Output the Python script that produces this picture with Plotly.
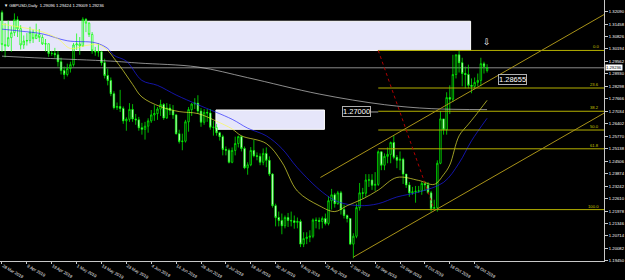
import plotly.graph_objects as go

# ---------------- data ----------------
tick_idx = [0, 8, 16, 24, 32, 40, 48, 56, 64, 72, 80, 88, 96, 104, 112, 120, 128, 136, 144, 152]
tick_text = ["28 Mar 2019", "9 Apr 2019", "19 Apr 2019", "1 May 2019", "13 May 2019", "23 May 2019",
             "4 Jun 2019", "14 Jun 2019", "26 Jun 2019", "8 Jul 2019", "18 Jul 2019", "30 Jul 2019",
             "9 Aug 2019", "21 Aug 2019", "2 Sep 2019", "12 Sep 2019", "24 Sep 2019", "4 Oct 2019",
             "16 Oct 2019", "28 Oct 2019"]

opens = [1.3205, 1.3042, 1.3035, 1.3077, 1.3102, 1.3168, 1.3122, 1.3040, 1.3060, 1.3062,
         1.3104, 1.3072, 1.3092, 1.3078, 1.3045, 1.3046, 1.2997, 1.2997, 1.2990, 1.2955,
         1.2910, 1.2890, 1.2920, 1.2940, 1.3040, 1.3045, 1.3035, 1.3170, 1.3150, 1.3093,
         1.3010, 1.3005, 1.3005, 1.2950, 1.2885, 1.2860, 1.2793, 1.2722, 1.2728, 1.2718,
         1.2655, 1.2663, 1.2713, 1.2665, 1.2660, 1.2620, 1.2612, 1.2628, 1.2655, 1.2685,
         1.2692, 1.2715, 1.2738, 1.2670, 1.2720, 1.2708, 1.2685, 1.2590, 1.2550, 1.2552,
         1.2650, 1.2712, 1.2740, 1.2745, 1.2705, 1.2648, 1.2698, 1.2695, 1.2623, 1.2622,
         1.2595, 1.2575, 1.2510, 1.2506, 1.2445, 1.2505, 1.2540, 1.2575, 1.2515, 1.2417,
         1.2432, 1.2505, 1.2478, 1.2475, 1.2445, 1.2490, 1.2455, 1.2385, 1.2225, 1.2165,
         1.2150, 1.2123, 1.2165, 1.2150, 1.2148, 1.2140, 1.2145, 1.2030, 1.2058, 1.2065,
         1.2070, 1.2152, 1.2150, 1.2145, 1.2160, 1.2135, 1.2250, 1.2280, 1.2235, 1.2290,
         1.2205, 1.2175, 1.2160, 1.2030, 1.2070, 1.2215, 1.2290, 1.2288, 1.2355, 1.2355,
         1.2328, 1.2333, 1.2498, 1.2430, 1.2475, 1.2485, 1.2545, 1.2470, 1.2455, 1.2460,
         1.2385, 1.2330, 1.2290, 1.2295, 1.2298, 1.2300, 1.2338, 1.2330, 1.2290, 1.2210,
         1.2215, 1.2440, 1.2665, 1.2610, 1.2773, 1.2765, 1.2890, 1.2990, 1.2950, 1.2895,
         1.2890, 1.2835, 1.2830, 1.2850, 1.2860, 1.2945, 1.2910]
highs = [1.3215, 1.3150, 1.3165, 1.3135, 1.3200, 1.3185, 1.3140, 1.3088, 1.3100, 1.3132,
         1.3118, 1.3148, 1.3120, 1.3092, 1.3070, 1.3047, 1.3010, 1.3025, 1.3010, 1.2975,
         1.2930, 1.2945, 1.2955, 1.3050, 1.3098, 1.3080, 1.3180, 1.3176, 1.3155, 1.3105,
         1.3030, 1.3048, 1.3010, 1.2970, 1.2920, 1.2875, 1.2805, 1.2748, 1.2812, 1.2728,
         1.2673, 1.2745, 1.2740, 1.2690, 1.2675, 1.2645, 1.2650, 1.2668, 1.2710, 1.2735,
         1.2725, 1.2762, 1.2745, 1.2745, 1.2740, 1.2735, 1.2690, 1.2610, 1.2590, 1.2660,
         1.2725, 1.2745, 1.2770, 1.2785, 1.2720, 1.2715, 1.2715, 1.2715, 1.2655, 1.2640,
         1.2600, 1.2585, 1.2525, 1.2515, 1.2520, 1.2575, 1.2580, 1.2580, 1.2525, 1.2445,
         1.2522, 1.2558, 1.2495, 1.2490, 1.2515, 1.2520, 1.2475, 1.2390, 1.2235, 1.2195,
         1.2185, 1.2175, 1.2188, 1.2195, 1.2175, 1.2165, 1.2155, 1.2090, 1.2090, 1.2100,
         1.2160, 1.2165, 1.2165, 1.2170, 1.2185, 1.2272, 1.2310, 1.2290, 1.2300, 1.2300,
         1.2230, 1.2180, 1.2160, 1.2085, 1.2235, 1.2340, 1.2315, 1.2385, 1.2385, 1.2385,
         1.2395, 1.2505, 1.2500, 1.2490, 1.2520, 1.2550, 1.2582, 1.2482, 1.2500, 1.2468,
         1.2385, 1.2345, 1.2320, 1.2325, 1.2325, 1.2345, 1.2350, 1.2345, 1.2300, 1.2255,
         1.2455, 1.2705, 1.2665, 1.2800, 1.2835, 1.2990, 1.2988, 1.3013, 1.2975, 1.2930,
         1.2940, 1.2870, 1.2875, 1.2895, 1.2975, 1.2955, 1.2942]
lows = [1.3004, 1.2977, 1.3030, 1.3005, 1.3085, 1.3080, 1.3017, 1.3020, 1.3037, 1.3048,
        1.3050, 1.3070, 1.3055, 1.3040, 1.3006, 1.2980, 1.2985, 1.2975, 1.2930, 1.2890,
        1.2866, 1.2880, 1.2900, 1.2930, 1.3015, 1.2990, 1.3030, 1.3105, 1.3080, 1.2995,
        1.2985, 1.2980, 1.2935, 1.2870, 1.2835, 1.2780, 1.2713, 1.2710, 1.2700, 1.2640,
        1.2605, 1.2650, 1.2650, 1.2635, 1.2605, 1.2585, 1.2560, 1.2595, 1.2645, 1.2655,
        1.2660, 1.2680, 1.2660, 1.2665, 1.2685, 1.2665, 1.2585, 1.2540, 1.2506, 1.2545,
        1.2600, 1.2680, 1.2715, 1.2690, 1.2625, 1.2635, 1.2650, 1.2610, 1.2580, 1.2580,
        1.2555, 1.2480, 1.2480, 1.2439, 1.2440, 1.2480, 1.2520, 1.2500, 1.2410, 1.2382,
        1.2425, 1.2470, 1.2455, 1.2430, 1.2430, 1.2420, 1.2375, 1.2215, 1.2120, 1.2120,
        1.2080, 1.2110, 1.2117, 1.2120, 1.2108, 1.2110, 1.2015, 1.2015, 1.2030, 1.2040,
        1.2060, 1.2110, 1.2105, 1.2110, 1.2125, 1.2125, 1.2205, 1.2215, 1.2230, 1.2180,
        1.2160, 1.2140, 1.2025, 1.1958, 1.2060, 1.2200, 1.2260, 1.2270, 1.2320, 1.2305,
        1.2300, 1.2325, 1.2405, 1.2405, 1.2440, 1.2440, 1.2460, 1.2415, 1.2405, 1.2335,
        1.2315, 1.2270, 1.2280, 1.2240, 1.2290, 1.2280, 1.2300, 1.2285, 1.2195, 1.2205,
        1.2195, 1.2435, 1.2585, 1.2585, 1.2690, 1.2750, 1.2870, 1.2900, 1.2830, 1.2820,
        1.2820, 1.2795, 1.2815, 1.2830, 1.2830, 1.2895, 1.2900]
closes = [1.3042, 1.3035, 1.3077, 1.3102, 1.3168, 1.3122, 1.3040, 1.3060, 1.3062, 1.3104,
          1.3072, 1.3092, 1.3078, 1.3045, 1.3046, 1.2997, 1.2997, 1.2990, 1.2955, 1.2910,
          1.2890, 1.2920, 1.2940, 1.3040, 1.3045, 1.3035, 1.3170, 1.3150, 1.3093, 1.3010,
          1.3005, 1.3005, 1.2950, 1.2885, 1.2860, 1.2793, 1.2722, 1.2728, 1.2718, 1.2655,
          1.2663, 1.2713, 1.2665, 1.2660, 1.2620, 1.2612, 1.2628, 1.2655, 1.2685, 1.2692,
          1.2715, 1.2738, 1.2670, 1.2720, 1.2708, 1.2685, 1.2590, 1.2550, 1.2552, 1.2650,
          1.2712, 1.2740, 1.2745, 1.2705, 1.2648, 1.2698, 1.2695, 1.2623, 1.2622, 1.2595,
          1.2575, 1.2510, 1.2506, 1.2445, 1.2505, 1.2540, 1.2575, 1.2515, 1.2417, 1.2432,
          1.2505, 1.2478, 1.2475, 1.2445, 1.2490, 1.2455, 1.2385, 1.2225, 1.2165, 1.2150,
          1.2123, 1.2165, 1.2150, 1.2148, 1.2140, 1.2145, 1.2030, 1.2058, 1.2065, 1.2070,
          1.2152, 1.2150, 1.2145, 1.2160, 1.2135, 1.2250, 1.2280, 1.2235, 1.2290, 1.2205,
          1.2175, 1.2160, 1.2030, 1.2070, 1.2215, 1.2290, 1.2288, 1.2355, 1.2355, 1.2328,
          1.2333, 1.2498, 1.2430, 1.2475, 1.2485, 1.2545, 1.2470, 1.2455, 1.2460, 1.2385,
          1.2330, 1.2290, 1.2295, 1.2298, 1.2300, 1.2338, 1.2330, 1.2290, 1.2210, 1.2215,
          1.2440, 1.2665, 1.2610, 1.2773, 1.2765, 1.2890, 1.2990, 1.2950, 1.2895, 1.2890,
          1.2835, 1.2830, 1.2850, 1.2860, 1.2945, 1.2930, 1.2924]

# moving averages (bar index, price)
ma_fast_idx = [0, 6, 13, 18, 22, 27, 31, 34, 36, 39, 42, 45, 51, 57, 63, 69, 74, 77, 85, 90,
               95, 102, 107, 111, 116, 121, 127, 134, 139, 142, 144, 147, 150, 152, 156]
ma_fast_val = [1.3145, 1.3130, 1.3106, 1.3071, 1.3022, 1.3037, 1.3042, 1.3012, 1.2973, 1.2909,
               1.2840, 1.2776, 1.2727, 1.2702, 1.2692, 1.2653, 1.2614, 1.2579, 1.2540, 1.2446,
               1.2299, 1.2225, 1.2195, 1.2225, 1.2259, 1.2304, 1.2368, 1.2353, 1.2333, 1.2382,
               1.2431, 1.2579, 1.2638, 1.2677, 1.2759]
ma_mid_idx = [0, 6, 13, 21, 30, 34, 36, 40, 45, 50, 56, 63, 74, 79, 85, 90, 95, 103, 108, 115,
              121, 127, 134, 142, 147, 151, 156]
ma_mid_val = [1.3120, 1.3110, 1.3096, 1.3061, 1.3051, 1.3022, 1.2987, 1.2958, 1.2860, 1.2835,
              1.2786, 1.2737, 1.2663, 1.2618, 1.2579, 1.2515, 1.2417, 1.2294, 1.2245, 1.2225,
              1.2235, 1.2269, 1.2294, 1.2343, 1.2441, 1.2554, 1.2668]
ma_slow_idx = [0, 13, 35, 44, 63, 79, 102, 123, 138, 156]
ma_slow_val = [1.2983, 1.2973, 1.2958, 1.2948, 1.2928, 1.2874, 1.2791, 1.2737, 1.2717, 1.2712]

y_tick_vals = [1.19450, 1.20082, 1.20714, 1.21346, 1.21978, 1.22610, 1.23242, 1.23874, 1.24506,
               1.25138, 1.25770, 1.26402, 1.27034, 1.27666, 1.28298, 1.28930, 1.29562, 1.30194,
               1.30826, 1.31458, 1.32090]
y_tick_text = ["1.19450", "1.20082", "1.20714", "1.21346", "1.21978", "1.22610", "1.23242",
               "1.23874", "1.24506", "1.25138", "1.25770", "1.26402", "1.27034", "1.27666",
               "1.28298", "1.28930", "1.29562", "1.30194", "1.30826", "1.31458", "1.32090"]

# drawn objects (bar index / price anchors)
fib_start, fib_end = 121, 139
fib_high, fib_low = 1.3012, 1.2205
fib_ratios = [0.0, 0.236, 0.382, 0.5, 0.618, 1.0]
fib_names = ["0.0", "23.6", "38.2", "50.0", "61.8", "100.0"]
box1 = (-2, 150.7, 1.3012, 1.3160)
box2 = (68.8, 103.7, 1.2612, 1.2710)
chan_upper = ((102.4, 1.2368), (193.6, 1.3194))
chan_lower = ((113.0, 1.1964), (193.6, 1.2694))
label_a = (1.27000, "1.27000")
label_b = (1.28655, "1.28655")
bid = 1.2924
title_txt = "GBPUSD,Daily  1.29096 1.29424 1.29009 1.29236"

X_RANGE = [-0.64, 193.6]
Y_RANGE = [1.19444, 1.32678]

# ---------------- figure ----------------
idx = list(range(len(closes)))
fig = go.Figure()

fig.add_trace(go.Candlestick(
    x=idx, open=opens, high=highs, low=lows, close=closes,
    increasing=dict(line=dict(color="rgba(0,255,0,0.72)", width=1), fillcolor="rgba(0,0,0,0)"),
    decreasing=dict(line=dict(color="rgba(0,255,0,0.72)", width=1), fillcolor="white"),
    whiskerwidth=0, showlegend=False, hoverinfo="skip"))

fig.add_trace(go.Scatter(x=ma_slow_idx, y=ma_slow_val, mode="lines",
                         line=dict(color="rgba(200,200,200,0.7)", width=1, shape="spline"),
                         showlegend=False, hoverinfo="skip"))
fig.add_trace(go.Scatter(x=ma_mid_idx, y=ma_mid_val, mode="lines",
                         line=dict(color="rgba(30,30,255,0.65)", width=1, shape="spline"),
                         showlegend=False, hoverinfo="skip"))
fig.add_trace(go.Scatter(x=ma_fast_idx, y=ma_fast_val, mode="lines",
                         line=dict(color="rgba(255,255,60,0.62)", width=1, shape="spline"),
                         showlegend=False, hoverinfo="skip"))

shapes = []
for b in (box1, box2):
    shapes.append(dict(type="rect", xref="x", yref="y", x0=b[0], x1=b[1], y0=b[2], y1=b[3],
                       fillcolor="#E6E6FA", line=dict(color="white", width=1), layer="below"))
# bid line
shapes.append(dict(type="line", xref="paper", yref="y", x0=0, x1=1, y0=bid, y1=bid,
                   line=dict(color="#8A8A8A", width=1), layer="below"))
# fib levels
fib_prices = [fib_high - (fib_high - fib_low) * r for r in fib_ratios]
for p in fib_prices:
    shapes.append(dict(type="line", xref="x", yref="y", x0=fib_start, x1=X_RANGE[1], y0=p, y1=p,
                       line=dict(color="#B4B000", width=1)))
shapes.append(dict(type="line", xref="x", yref="y", x0=fib_start, x1=fib_end, y0=fib_high, y1=fib_low,
                   line=dict(color="#B00000", width=1, dash="dot")))
for (a, b) in (chan_upper, chan_lower):
    shapes.append(dict(type="line", xref="x", yref="y", x0=a[0], y0=a[1], x1=b[0], y1=b[1],
                       line=dict(color="#A89218", width=1)))
# short pointer line of the 1.27000 label
shapes.append(dict(type="line", xref="x", yref="y", x0=118.6, x1=121, y0=label_a[0], y1=label_a[0],
                   line=dict(color="#A0A0A0", width=1)))
fig.update_layout(shapes=shapes)

ann = []
FONT = "Liberation Sans"
for p, n in zip(fib_prices, fib_names):
    ann.append(dict(xref="paper", yref="y", x=0.995, y=p, text=n, showarrow=False,
                    xanchor="right", yanchor="bottom", yshift=-1,
                    font=dict(family=FONT, size=4.2, color="#C8C400")))
ann.append(dict(xref="x", yref="y", x=118.6, y=label_a[0], text=label_a[1], showarrow=False,
                xanchor="right", yanchor="middle", bgcolor="black", bordercolor="#B0B0B0",
                borderwidth=1, borderpad=0, font=dict(family=FONT, size=7.5, color="white")))
ann.append(dict(xref="x", yref="y", x=159.5, y=label_b[0], text=label_b[1], showarrow=False,
                xanchor="left", yanchor="middle", bgcolor="black", bordercolor="#B0B0B0",
                borderwidth=1, borderpad=0, font=dict(family=FONT, size=7.5, color="white")))
ann.append(dict(xref="x", yref="y", x=156, y=1.3057, text="⇩", showarrow=False,
                font=dict(family="DejaVu Sans", size=9, color="white")))
ann.append(dict(xref="paper", yref="y", x=1.0, y=bid, text="1.29236", showarrow=False,
                xanchor="left", yanchor="middle", bgcolor="white", borderpad=0, xshift=1,
                font=dict(family=FONT, size=4.2, color="black")))
ann.append(dict(xref="paper", yref="paper", x=0.004, y=0.997, text="▼ " + title_txt, showarrow=False,
                xanchor="left", yanchor="top", font=dict(family=FONT, size=4.2, color="white")))
fig.update_layout(annotations=ann)

fig.update_layout(
    width=625, height=280,
    margin=dict(l=0, r=18, t=0, b=11),
    paper_bgcolor="black", plot_bgcolor="black",
    showlegend=False,
    xaxis=dict(range=X_RANGE, tickvals=tick_idx, ticktext=tick_text, showgrid=False, zeroline=False,
               showline=True, linecolor="#C8C8C8", linewidth=1, ticks="outside", ticklen=2,
               tickcolor="#C8C8C8", ticklabelposition="outside right",
               tickfont=dict(family=FONT, size=4.2, color="white"), rangeslider=dict(visible=False),
               fixedrange=True),
    yaxis=dict(range=Y_RANGE, side="right", tickvals=y_tick_vals, ticktext=y_tick_text,
               showgrid=False, zeroline=False, showline=True, linecolor="#C8C8C8", linewidth=1,
               ticks="outside", ticklen=3, tickcolor="#C8C8C8",
               tickfont=dict(family=FONT, size=4.2, color="white"), fixedrange=True),
)

fig.write_html("out.html")
